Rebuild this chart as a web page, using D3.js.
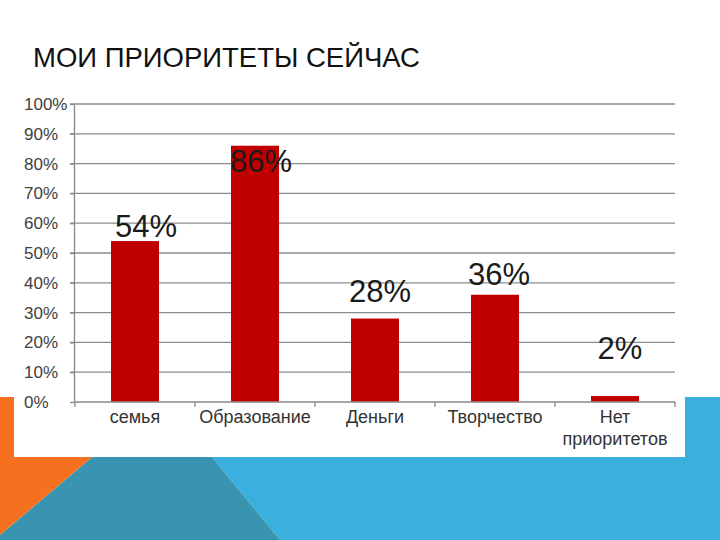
<!DOCTYPE html>
<html>
<head>
<meta charset="utf-8">
<script src="https://cdn.jsdelivr.net/npm/d3@7"></script>
<style>
html,body{margin:0;padding:0;background:#fff;}
svg{display:block;}
text{font-family:"Liberation Sans",Arial,sans-serif;}
</style>
</head>
<body>
<svg id="chart" width="720" height="540"></svg>
<script>
// ---- data ----
const title = "МОИ ПРИОРИТЕТЫ СЕЙЧАС";
const categories = ["семья", "Образование", "Деньги", "Творчество", "Нет\nприоритетов"];
const values = [54, 86, 28, 36, 2];
const tickValues = [0, 10, 20, 30, 40, 50, 60, 70, 80, 90, 100];

// ---- layout (manual label nudges, in px, relative to bar top / bar centre) ----
const labelNudge = [[11, -4], [6, 26], [5, -17], [4, -10], [5, -37]];

const svg = d3.select("#chart");

// background decorative shapes
const bg = svg.append("g");
bg.append("polygon").attr("points", "163,397 720,397 720,540 280,540").attr("fill", "#3bb0de");
bg.append("polygon").attr("points", "163,397 280,540 0,540 0,535").attr("fill", "#3994b2");
bg.append("polygon").attr("points", "0,397 163,397 0,535").attr("fill", "#f5711f");

// title
svg.append("text").attr("x", 33).attr("y", 67)
  .attr("font-size", 27.5).attr("fill", "#111").text(title);

// chart white box
svg.append("rect").attr("x", 14).attr("y", 88).attr("width", 671).attr("height", 369).attr("fill", "#fff");

const x = d3.scaleBand().domain(categories).range([75, 675]).padding(0);
const y = d3.scaleLinear().domain([0, 100]).range([402, 104]);

// gridlines
svg.append("g").selectAll("line").data(tickValues.filter(d => d > 0)).join("line")
  .attr("x1", 70).attr("x2", 675)
  .attr("y1", d => y(d)).attr("y2", d => y(d))
  .attr("stroke", "#8c8c8c").attr("stroke-width", 1.3);

// y axis
const yAxis = svg.append("g").attr("transform", "translate(74,0)")
  .call(d3.axisLeft(y).tickValues(tickValues).tickFormat(d => d + "%").tickSize(4).tickSizeOuter(0));
yAxis.select(".domain").attr("stroke", "#888").attr("stroke-width", 1.3);
yAxis.selectAll(".tick line").attr("stroke", "#888").attr("stroke-width", 1.3);
yAxis.selectAll(".tick text").attr("x", -50).attr("text-anchor", "start")
  .attr("font-size", 17).attr("fill", "#404040")
  .attr("font-family", "'Liberation Sans',Arial,sans-serif");

// bars
svg.append("g").selectAll("rect").data(values).join("rect")
  .attr("x", (d, i) => x(categories[i]) + x.bandwidth() * 0.3)
  .attr("width", x.bandwidth() * 0.4)
  .attr("y", d => y(d))
  .attr("height", d => y(0) - y(d))
  .attr("fill", "#c00000");

// x axis baseline and boundary ticks
const xb = svg.append("g");
xb.append("line").attr("x1", 74).attr("x2", 675).attr("y1", y(0)).attr("y2", y(0))
  .attr("stroke", "#888").attr("stroke-width", 1.3);
const bounds = categories.map(c => x(c)).concat([x.range()[1]]);
xb.selectAll("line.t").data(bounds).join("line").attr("class", "t")
  .attr("x1", d => d).attr("x2", d => d).attr("y1", y(0)).attr("y2", y(0) + 5)
  .attr("stroke", "#888").attr("stroke-width", 1.3);

// category labels
const cl = svg.append("g").selectAll("text").data(categories).join("text")
  .attr("x", d => x(d) + x.bandwidth() / 2)
  .attr("y", 423)
  .attr("text-anchor", "middle")
  .attr("font-size", 18).attr("fill", "#333");
cl.each(function (d) {
  const t = d3.select(this);
  d.split("\n").forEach((line, k) => {
    t.append("tspan").attr("x", x(d) + x.bandwidth() / 2).attr("dy", k === 0 ? 0 : 22).text(line);
  });
});

// value labels
svg.append("g").selectAll("text").data(values).join("text")
  .attr("x", (d, i) => x(categories[i]) + x.bandwidth() / 2 + labelNudge[i][0])
  .attr("y", (d, i) => y(d) + labelNudge[i][1])
  .attr("text-anchor", "middle")
  .attr("font-size", 31).attr("fill", "#1a1a1a")
  .text(d => d + "%");
</script>
</body>
</html>
